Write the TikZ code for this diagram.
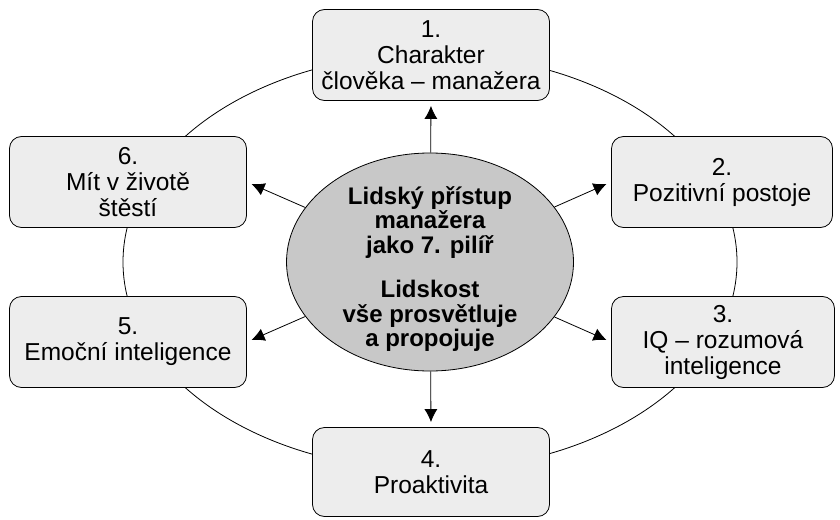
\documentclass[tikz,border=0pt]{standalone}
\usepackage{fontspec}
\setmainfont{Liberation Sans}
\usetikzlibrary{shapes.geometric,arrows.meta}
\definecolor{boxgray}{HTML}{EDEDED}
\definecolor{hubgray}{HTML}{C8C8C8}
\tikzset{
  pillar/.style={draw,thick,fill=boxgray,rounded corners=12pt,minimum width=237pt,
    minimum height=91pt,align=center,inner sep=2pt,font=\fontsize{24.5}{26}\selectfont},
  hub/.style={draw,thick,fill=hubgray,ellipse,minimum width=287pt,minimum height=218pt,
    inner sep=0pt},
  hubtext/.style={align=center,inner sep=0pt,font=\bfseries\fontsize{24}{24.5}\selectfont},
  link/.style={-{Latex[length=13pt,width=13pt]},thick,shorten >=5pt}
}
\begin{document}
\begin{tikzpicture}[x=1pt,y=-1pt]
\useasboundingbox (0,0) rectangle (840,519);
\pgfmathsetmacro{\cx}{430}
\pgfmathsetmacro{\cy}{262}
% outer ring
\draw[thick] (\cx,\cy) ellipse [x radius=307,y radius=208];
\node[hub] (c) at (\cx,\cy) {};
\node[hubtext] (ct) at (\cx,\cy+7) {Lidský přístup\\manažera\\jako 7. pilíř\\[20pt]Lidskost\\vše prosvětluje\\a propojuje};
\node[pillar] (p1) at (431,55) {1.\\Charakter\\člověka -- manažera};
\node[pillar,minimum width=221pt] (p2) at (722,182) {2.\\Pozitivní postoje};
\node[pillar,minimum width=223pt] (p3) at (723,342) {3.\\IQ -- rozumová\\inteligence};
\node[pillar,minimum height=89pt] (p4) at (431,472) {4.\\Proaktivita};
\node[pillar] (p5) at (128,342) {5.\\Emoční inteligence};
\node[pillar] (p6) at (128,182) {6.\\Mít v životě\\štěstí};
\draw[link] (c) -- (p1.south);
\draw[link] (c) -- (p2.west);
\draw[link] (c) -- (p3.west);
\draw[link] (c) -- (p4.north);
\draw[link] (c) -- (p5.east);
\draw[link] (c) -- (p6.east);
\end{tikzpicture}
\end{document}
